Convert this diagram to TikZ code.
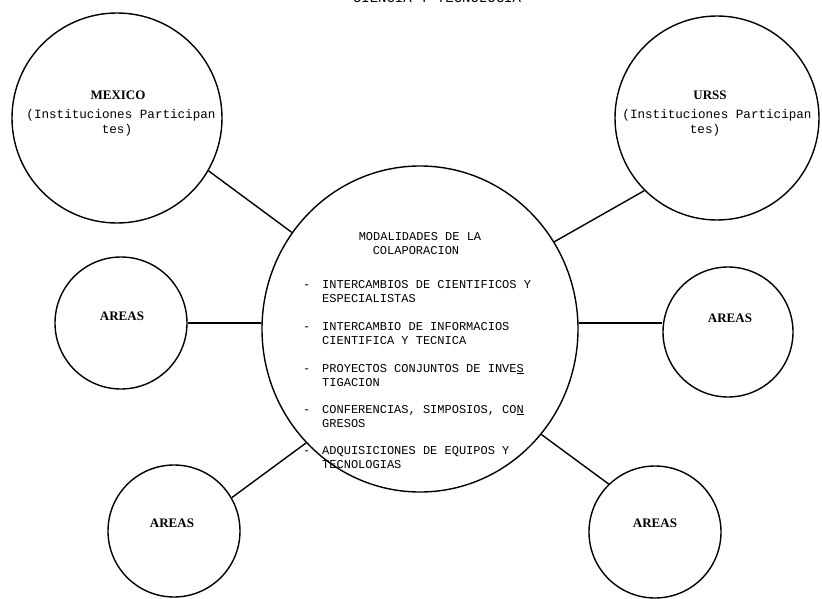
\documentclass[tikz,border=0pt]{standalone}
\usepackage{fontspec}
\usetikzlibrary{shapes.geometric}
\setmainfont{Liberation Serif}
\newfontfamily\tw{Liberation Mono}
\begin{document}
\begin{tikzpicture}[x=1pt,y=-1pt,
  ring/.style={draw, circle, line width=1.4pt, inner sep=0pt, minimum size=#1},
  link/.style={line width=1.4pt},
  bigname/.style={font=\bfseries\fontsize{13}{15}\selectfont, anchor=base, inner sep=0pt},
  instx/.style={font=\tw\fontsize{12.6}{14}\selectfont, anchor=base, inner sep=0pt},
  body/.style={font=\tw\fontsize{12}{14}\selectfont, anchor=base west, inner sep=0pt},
  head/.style={font=\tw\fontsize{12}{14}\selectfont, anchor=base, inner sep=0pt},
]
\useasboundingbox (0,0) rectangle (822,599);
\clip (0,0) rectangle (822,599);

% title (only its lower part is visible)
\node[font=\tw\fontsize{14}{16}\selectfont, anchor=base, inner sep=0pt] (title) at (437,3) {CIENCIA Y TECNOLOGIA};

% circles
\node[ring=210pt] (mx) at (117,118) {};
\node[ring=204pt] (us) at (717,118) {};
\node[draw, ellipse, line width=1.4pt, inner sep=0pt, minimum width=316pt, minimum height=326pt] (c) at (420,329) {};
\node[ring=132pt] (la) at (121,323) {};
\node[ring=130pt] (ra) at (728,332) {};
\node[ring=132pt] (bl) at (174,531) {};
\node[ring=132pt] (br) at (655,532) {};

% connectors
\draw[link] (mx.330) -- (c.143.7);
\draw[link] (us.225) -- (c.33);
\draw[link] (la.east) -- (la.east -| c.west);
\draw[link] (la.east -| c.east) -- (la.east -| ra.west);
\draw[link] (bl.30) -- (c.225);
\draw[link] (br.134) -- (c.319.4);

% texts in the outer circles
\node[bigname] (mxa) at (118,100) {MEXICO};
\node[instx] (mxb) at (121,119) {(Instituciones Participan};
\node[instx] (mxc) at (117,134) {tes)};
\node[bigname] (usa) at (710,100) {URSS};
\node[instx] (usb) at (717,119) {(Instituciones Participan};
\node[instx] (usc) at (705,134) {tes)};
\node[bigname] (laa) at (122,320) {AREAS};
\node[bigname] (raa) at (730,322) {AREAS};
\node[bigname] (bla) at (172,527) {AREAS};
\node[bigname] (bra) at (655,527) {AREAS};

% central text
\node[head] (h1) at (420,240) {MODALIDADES DE LA};
\node[head] (h2) at (416,254) {COLAPORACION};

\node[body] (d1) at (303,288) {-};
\node[body] (t1a) at (322,288) {INTERCAMBIOS DE CIENTIFICOS Y};
\node[body] (t1b) at (322,302) {ESPECIALISTAS};
\node[body] (d2) at (303,330) {-};
\node[body] (t2a) at (322,330) {INTERCAMBIO DE INFORMACIOS};
\node[body] (t2b) at (322,344) {CIENTIFICA Y TECNICA};
\node[body] (d3) at (303,372) {-};
\node[body] (t3a) at (322,372) {PROYECTOS CONJUNTOS DE INVE\underline{S}};
\node[body] (t3b) at (322,386) {TIGACION};
\node[body] (d4) at (303,413) {-};
\node[body] (t4a) at (322,413) {CONFERENCIAS, SIMPOSIOS, CO\underline{N}};
\node[body] (t4b) at (322,427) {GRESOS};
\node[body] (d5) at (303,454) {-};
\node[body] (t5a) at (322,454) {ADQUISICIONES DE EQUIPOS Y};
\node[body] (t5b) at (322,468) {TECNOLOGIAS};
\end{tikzpicture}
\end{document}
